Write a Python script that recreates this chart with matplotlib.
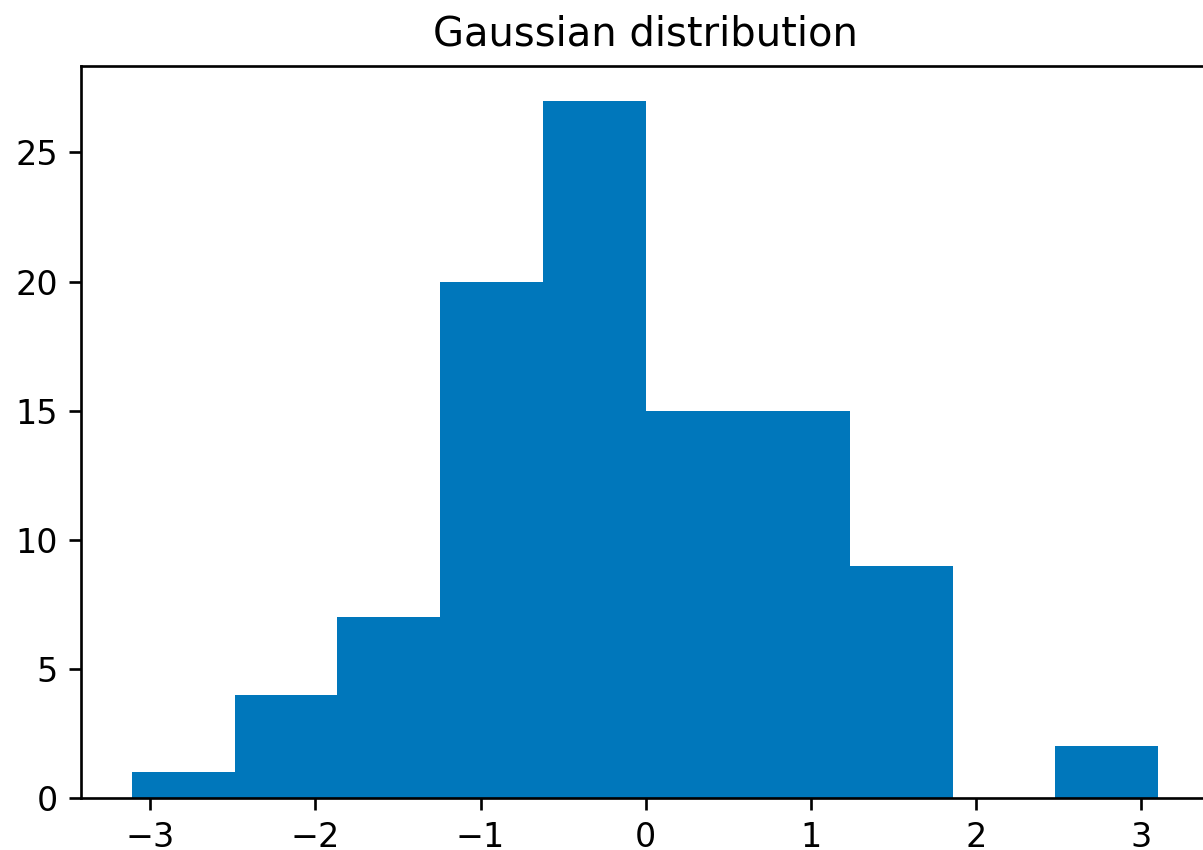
import matplotlib
matplotlib.use("Agg")
import matplotlib.pyplot as plt
import numpy as np

bin_edges = [-3.109, -2.488, -1.867, -1.245, -0.624, 0.0, 0.618, 1.236, 1.858, 2.479, 3.100]
counts = [1, 4, 7, 20, 27, 15, 15, 9, 0, 2]
title = "Gaussian distribution"
bar_color = "#0077BB"

s = 2.4
fig = plt.figure(figsize=(12.03, 8.5), dpi=100)
ax = fig.add_axes([81/1203, 52/850, (1209-81)/1203, (798-66)/850])
ax.hist(bin_edges[:-1], bins=bin_edges, weights=counts, color=bar_color)
ax.set_title(title, fontsize=12*s, pad=6*s)
ax.tick_params(labelsize=10*s, width=0.8*s, length=3.5*s, pad=3.5*s)
for sp in ax.spines.values():
    sp.set_linewidth(0.8*s)
ax.set_xticks([-3, -2, -1, 0, 1, 2, 3])
ax.set_yticks([0, 5, 10, 15, 20, 25])
fig.savefig("out.png", dpi=100)
